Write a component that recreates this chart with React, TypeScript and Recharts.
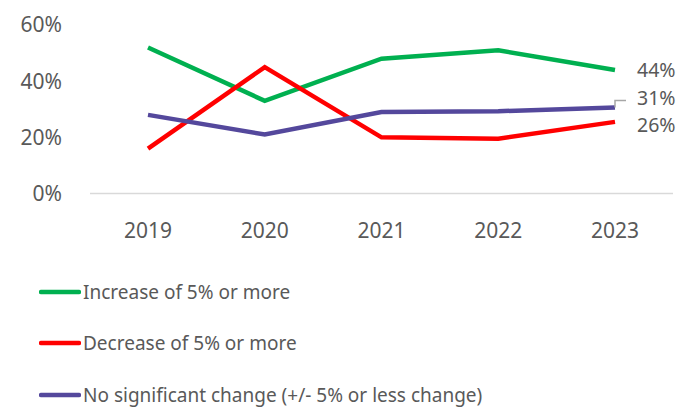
import { LineChart, Line, XAxis, YAxis, LabelList } from 'recharts';

const years = ['2019', '2020', '2021', '2022', '2023'];
const increase = [52, 33, 48, 51, 44];
const decrease = [16, 45, 20, 19.5, 25.5];
const noChange = [28, 21, 29, 29.3, 30.6];
const yTicks = [0, 20, 40, 60];

const series = [
  { key: 'increase', name: 'Increase of 5% or more', color: '#00B050' },
  { key: 'decrease', name: 'Decrease of 5% or more', color: '#FF0000' },
  { key: 'noChange', name: 'No significant change (+/- 5% or less change)', color: '#54489C' },
];

const data = years.map((year, i) => ({
  year,
  increase: increase[i],
  decrease: decrease[i],
  noChange: noChange[i],
}));

const FONT = '"Noto Sans", sans-serif';
const TEXT = '#595959';

function EndLabel(props: any) {
  const { x, y, value, index, lift, drop } = props;
  if (index !== years.length - 1) return null;
  const ty = y - (lift ?? 0) + (drop ?? 0);
  return (
    <g>
      {lift ? (
        <path d={`M${x},${y} L${x},${ty + 2} L${x + 11},${ty + 2}`} stroke="#a6a6a6" strokeWidth={1.5} fill="none" />
      ) : null}
      <text x={x + 22} y={ty} dy="0.35em" fill={TEXT} fontSize={19.5} fontFamily={FONT}>
        {`${Math.round(value)}%`}
      </text>
    </g>
  );
}

function LegendBox() {
  return (
    <div style={{ position: 'absolute', left: 0, top: 266, fontFamily: FONT, color: TEXT, fontSize: 19 }}>
      {series.map((s) => (
        <div key={s.key} style={{ display: 'flex', alignItems: 'center', height: 51.5 }}>
          <svg width={42} height={6} style={{ marginLeft: 39, marginRight: 2 }}>
            <line x1={2} y1={3} x2={40} y2={3} stroke={s.color} strokeWidth={4.5} strokeLinecap="round" />
          </svg>
          <span>{s.name}</span>
        </div>
      ))}
    </div>
  );
}

export default function App() {
  return (
    <div style={{ position: 'absolute', left: 0, top: 0, width: 699, height: 408, background: '#fff' }}>
      <LineChart width={699} height={250} data={data} margin={{ top: 25, right: 26, bottom: 0, left: 0 }}>
        <XAxis
          dataKey="year"
          padding={{ left: 58, right: 58 }}
          axisLine={{ stroke: '#d9d9d9', strokeWidth: 1.5 }}
          tickLine={false}
          tickMargin={24}
          height={56.5}
          tick={{ fill: TEXT, fontSize: 21, fontFamily: FONT }}
        />
        <YAxis
          domain={[0, 60]}
          ticks={yTicks}
          width={90}
          axisLine={false}
          tickLine={false}
          tickMargin={22}
          tickFormatter={(v: number) => `${v}%`}
          tick={{ fill: TEXT, fontSize: 21, fontFamily: FONT }}
        />
        {series.map((s) => (
          <Line
            key={s.key}
            dataKey={s.key}
            name={s.name}
            stroke={s.color}
            strokeWidth={4.5}
            dot={false}
            isAnimationActive={false}
          >
            <LabelList
              dataKey={s.key}
              content={(p: any) => (
                <EndLabel {...p} lift={s.key === 'noChange' ? 9 : 0} drop={s.key === 'decrease' ? 3 : 0} />
              )}
            />
          </Line>
        ))}
      </LineChart>
      <LegendBox />
    </div>
  );
}
